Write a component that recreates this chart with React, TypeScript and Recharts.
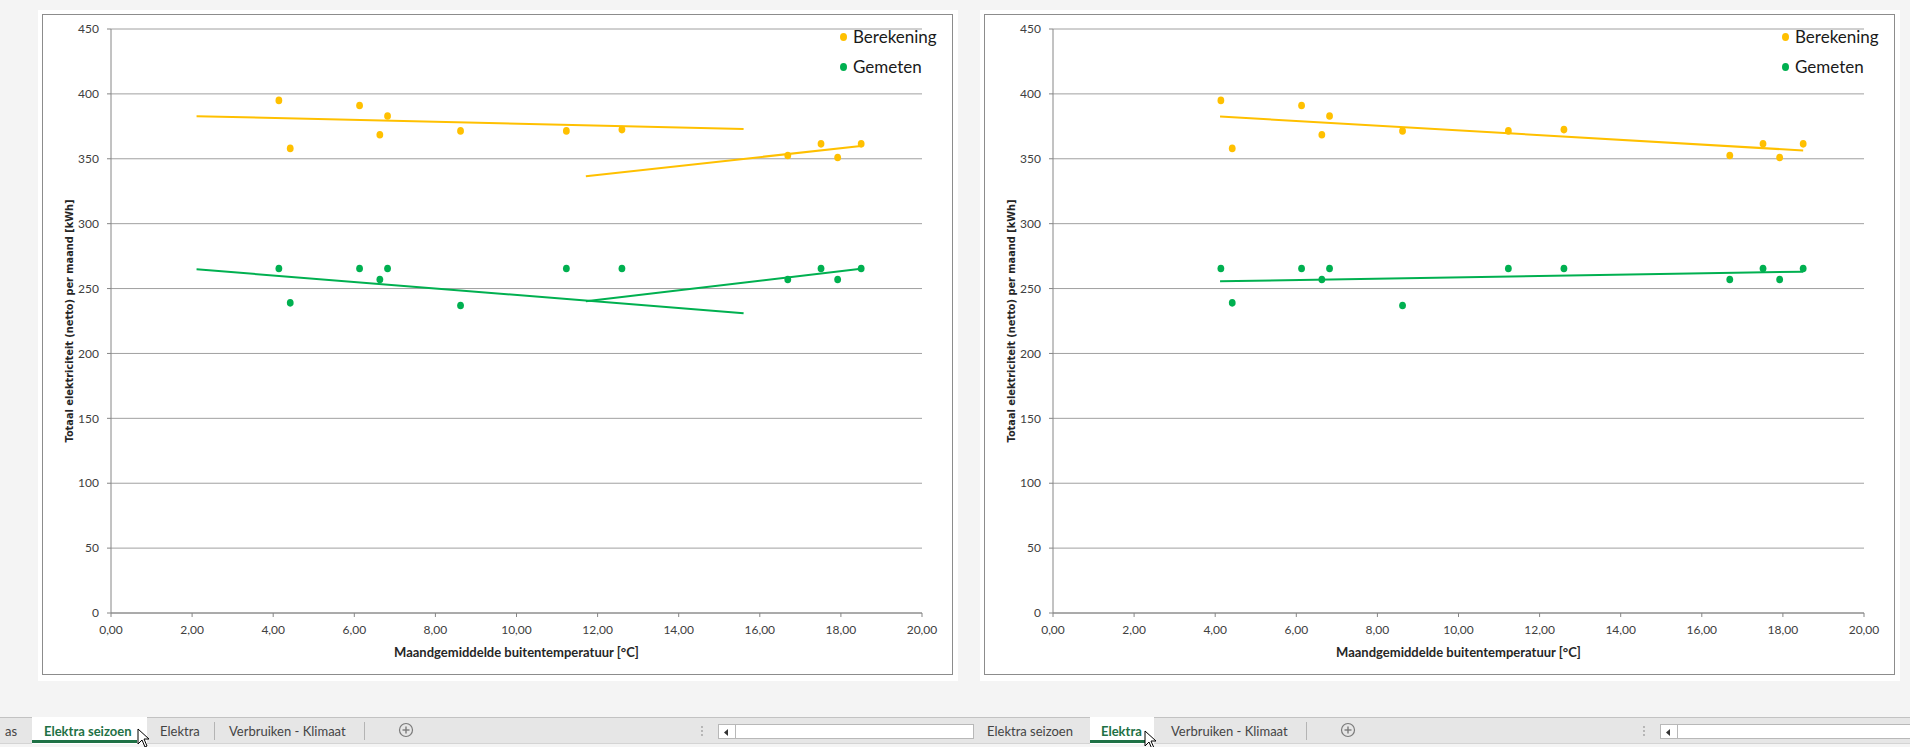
import React from "react";
import {
  ScatterChart,
  Scatter,
  XAxis,
  YAxis,
  CartesianGrid,
  ReferenceLine,
} from "recharts";

// maandgemiddelde buitentemperatuur per maand [°C]
const temperatures = [4.14, 4.42, 6.13, 6.63, 6.82, 8.62, 11.23, 12.6, 16.69, 17.51, 17.92, 18.5];
// totaal elektriciteit per maand [kWh]
const berekening = [395, 358, 391, 368.5, 383, 371.5, 371.5, 372.5, 352.5, 361.5, 351, 361.5];
const gemeten = [265.5, 239, 265.5, 257, 265.5, 237, 265.5, 265.5, 257, 265.5, 257, 265.5];

const xTicks = [0, 2, 4, 6, 8, 10, 12, 14, 16, 18, 20];
const yTicks = [0, 50, 100, 150, 200, 250, 300, 350, 400, 450];

// trendlijnen (begin- en eindpunt)
const berekeningWinterTrend = [{ x: 2.11, y: 382.8 }, { x: 15.6, y: 373 }];
const berekeningZomerTrend = [{ x: 11.71, y: 336.6 }, { x: 18.55, y: 360 }];
const gemetenWinterTrend = [{ x: 2.11, y: 264.8 }, { x: 15.6, y: 231 }];
const gemetenZomerTrend = [{ x: 11.71, y: 240.2 }, { x: 18.55, y: 265.5 }];
const berekeningTrend = [{ x: 4.12, y: 382.5 }, { x: 18.5, y: 356.4 }];
const gemetenTrend = [{ x: 4.12, y: 255.6 }, { x: 18.5, y: 263 }];

const ORANGE = "#FFC000";
const GREEN = "#00B050";
const AXIS = "#868686";
const FONT = "Lato, 'Open Sans', sans-serif";

const berekeningData = temperatures.map((t, i) => ({ x: t, y: berekening[i] }));
const gemetenData = temperatures.map((t, i) => ({ x: t, y: gemeten[i] }));

const fmt = (v: number) => v.toFixed(2).replace(".", ",");

const Dot = (props: any) => {
  const { cx, cy, fill } = props;
  if (cx == null || cy == null) return null;
  return <ellipse cx={cx} cy={cy} rx={3.4} ry={3.8} fill={fill} />;
};

const YTitle = (props: any) => {
  const vb = props.viewBox || {};
  const x = vb.x + 27;
  const y = vb.y + vb.height / 2;
  return (
    <text
      x={x}
      y={y}
      transform={`rotate(-90 ${x} ${y})`}
      textAnchor="middle"
      dominantBaseline="central"
      fontFamily="'DejaVu Sans', Verdana, sans-serif"
      fontWeight="bold"
      fontSize={10}
      textLength={243}
      lengthAdjust="spacingAndGlyphs"
      fill="#262626"
    >
      Totaal elektriciteit (netto) per maand [kWh]
    </text>
  );
};

const XTitle = (props: any) => {
  const vb = props.viewBox || {};
  return (
    <text
      x={vb.x + vb.width / 2}
      y={vb.y + 39}
      textAnchor="middle"
      dominantBaseline="central"
      fontFamily={FONT}
      fontWeight="bold"
      fontSize={13}
      fill="#262626"
    >
      Maandgemiddelde buitentemperatuur [°C]
    </text>
  );
};

type Trend = { points: { x: number; y: number }[]; color: string };

// legenda: posities binnen het witte paneel
const LegendBox = ({ left }: { left: number }) => (
  <div style={{ position: "absolute", left, top: 0, fontFamily: FONT, fontSize: 17, color: "#1a1a1a" }}>
    {[
      { name: "Berekening", color: ORANGE, top: 27 },
      { name: "Gemeten", color: GREEN, top: 57 },
    ].map((e) => (
      <div key={e.name} style={{ position: "absolute", left: 0, top: e.top - 11, whiteSpace: "nowrap", height: 22, lineHeight: "22px" }}>
        <span
          style={{
            position: "absolute",
            left: -3.5,
            top: 7,
            width: 7,
            height: 8,
            borderRadius: "50%",
            background: e.color,
          }}
        />
        <span style={{ position: "absolute", left: 10, top: 0 }}>{e.name}</span>
      </div>
    ))}
  </div>
);

const ChartPanel = ({ left, trends }: { left: number; trends: Trend[] }) => (
  <div
    style={{
      position: "absolute",
      left: left - 4,
      top: 10,
      width: 920,
      height: 671,
      background: "#ffffff",
    }}
  >
    <div
      style={{
        position: "absolute",
        left: 4,
        top: 4,
        width: 911,
        height: 661,
        border: "1px solid #8c8c8c",
        boxSizing: "border-box",
      }}
    />
    <div style={{ position: "absolute", left: 4, top: 4 }}>
      <ScatterChart width={911} height={661} margin={{ top: 15, right: 31, left: 0, bottom: 0 }}>
        <CartesianGrid horizontal vertical={false} stroke="#a0a0a0" />
        <XAxis
          type="number"
          dataKey="x"
          domain={[0, 20]}
          ticks={xTicks}
          tickFormatter={fmt}
          interval={0}
          height={62}
          tickSize={4}
          tickMargin={8}
          stroke={AXIS}
          tick={{ fill: "#404040", fontSize: 12, fontFamily: FONT }}
          label={{ content: XTitle }}
          allowDataOverflow
        />
        <YAxis
          type="number"
          dataKey="y"
          domain={[0, 450]}
          ticks={yTicks}
          interval={0}
          width={69}
          tickSize={4}
          tickMargin={8}
          stroke={AXIS}
          tick={{ fill: "#404040", fontSize: 12, fontFamily: FONT }}
          label={{ content: YTitle }}
          allowDataOverflow
        />
        <Scatter name="Berekening" data={berekeningData} fill={ORANGE} shape={Dot} isAnimationActive={false} />
        <Scatter name="Gemeten" data={gemetenData} fill={GREEN} shape={Dot} isAnimationActive={false} />
        {trends.map((t, i) => (
          <ReferenceLine key={i} segment={t.points} stroke={t.color} strokeWidth={2} ifOverflow="visible" />
        ))}
      </ScatterChart>
    </div>
    <LegendBox left={805} />
  </div>
);

const Cursor = ({ left, top }: { left: number; top: number }) => (
  <svg style={{ position: "absolute", left, top }} width={14} height={20}>
    <polygon points="1,1 1,16 5,12 8,19 10,18 7,11 12,11" fill="#ffffff" stroke="#000000" strokeWidth={1} />
  </svg>
);

const Plus = ({ left }: { left: number }) => (
  <svg style={{ position: "absolute", left: left - 8, top: 722 }} width={16} height={16}>
    <circle cx={8} cy={8} r={6.5} fill="none" stroke="#7a7a7a" strokeWidth={1.2} />
    <line x1={4.5} y1={8} x2={11.5} y2={8} stroke="#7a7a7a" strokeWidth={1.4} />
    <line x1={8} y1={4.5} x2={8} y2={11.5} stroke="#7a7a7a" strokeWidth={1.4} />
  </svg>
);

const TabText = ({ left, text, bold }: { left: number; text: string; bold?: boolean }) => (
  <span
    style={{
      position: "absolute",
      left,
      top: 722,
      fontFamily: FONT,
      fontSize: 13,
      lineHeight: "18px",
      whiteSpace: "nowrap",
      color: bold ? "#1e7145" : "#444444",
      fontWeight: bold ? "bold" : "normal",
    }}
  >
    {text}
  </span>
);

const Sep = ({ left }: { left: number }) => (
  <div style={{ position: "absolute", left, top: 722, width: 1, height: 18, background: "#b4b4b4" }} />
);

const Scrollbar = ({ left, width }: { left: number; width: number }) => (
  <div
    style={{
      position: "absolute",
      left,
      top: 724,
      width,
      height: 15,
      background: "#ffffff",
      border: "1px solid #b8b8b8",
      boxSizing: "border-box",
    }}
  >
    <div style={{ position: "absolute", left: 0, top: 0, width: 16, height: 13, borderRight: "1px solid #b8b8b8" }}>
      <svg width={16} height={13}>
        <polygon points="9,3 9,10 5,6.5" fill="#333" />
      </svg>
    </div>
  </div>
);

const Dots = ({ left }: { left: number }) => (
  <svg style={{ position: "absolute", left: left - 2, top: 724 }} width={4} height={14}>
    <circle cx={2} cy={3} r={0.9} fill="#a0a0a0" />
    <circle cx={2} cy={7} r={0.9} fill="#a0a0a0" />
    <circle cx={2} cy={11} r={0.9} fill="#a0a0a0" />
  </svg>
);

export default function App() {
  return (
    <div
      style={{
        position: "absolute",
        left: 0,
        top: 0,
        width: 1910,
        height: 747,
        background: "#f4f4f4",
        overflow: "hidden",
      }}
    >
      <ChartPanel
        left={42}
        trends={[
          { points: berekeningWinterTrend, color: ORANGE },
          { points: berekeningZomerTrend, color: ORANGE },
          { points: gemetenWinterTrend, color: GREEN },
          { points: gemetenZomerTrend, color: GREEN },
        ]}
      />
      <ChartPanel
        left={984}
        trends={[
          { points: berekeningTrend, color: ORANGE },
          { points: gemetenTrend, color: GREEN },
        ]}
      />

      {/* tabbladen onderaan */}
      <div
        style={{
          position: "absolute",
          left: 0,
          top: 717,
          width: 1910,
          height: 27,
          background: "#e6e6e6",
          borderTop: "1px solid #c2c2c2",
          borderBottom: "1px solid #d4d4d4",
          boxSizing: "border-box",
        }}
      />
      <div style={{ position: "absolute", left: 32, top: 717, width: 115, height: 27, background: "#ffffff" }} />
      <div style={{ position: "absolute", left: 32, top: 740, width: 105, height: 3, background: "#1e7145" }} />
      <TabText left={5} text="as" />
      <TabText left={44} text="Elektra seizoen" bold />
      <TabText left={160} text="Elektra" />
      <Sep left={214} />
      <TabText left={229} text="Verbruiken - Klimaat" />
      <Sep left={364} />
      <Plus left={406} />
      <Dots left={702} />
      <Scrollbar left={718} width={256} />

      <TabText left={987} text="Elektra seizoen" />
      <div style={{ position: "absolute", left: 1090, top: 717, width: 64, height: 27, background: "#ffffff" }} />
      <div style={{ position: "absolute", left: 1090, top: 740, width: 55, height: 3, background: "#1e7145" }} />
      <TabText left={1101} text="Elektra" bold />
      <TabText left={1171} text="Verbruiken - Klimaat" />
      <Sep left={1306} />
      <Plus left={1348} />
      <Dots left={1644} />
      <Scrollbar left={1660} width={260} />

      <Cursor left={137} top={728} />
      <Cursor left={1144} top={730} />
    </div>
  );
}
